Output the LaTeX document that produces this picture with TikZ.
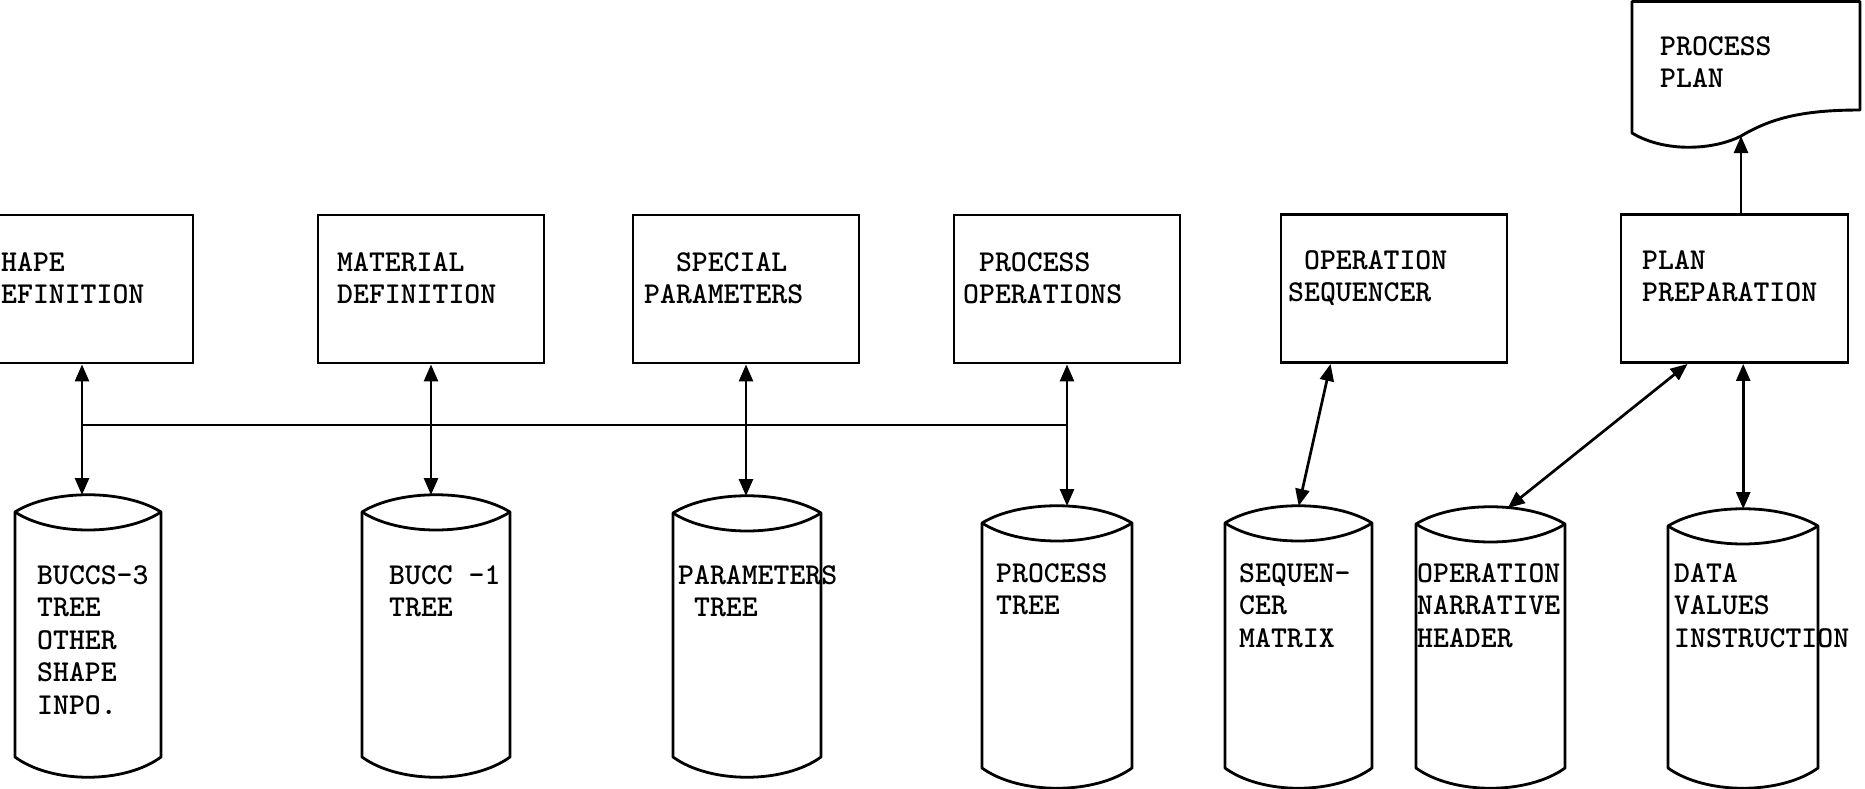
\documentclass[tikz,border=0pt]{standalone}
\usetikzlibrary{arrows.meta,calc}
\newcommand{\drawcyl}[5]{%
  \pgfmathsetmacro\cwid{#3-#2}%
  \pgfmathsetmacro\cqa{#2+0.25*\cwid}%
  \pgfmathsetmacro\cqb{#3-0.25*\cwid}%
  \draw[cylline] (#2,#4) .. controls (\cqa,#4-23) and (\cqb,#4-23) .. (#3,#4) -- (#3,#5) .. controls (\cqb,#5+27) and (\cqa,#5+27) .. (#2,#5) -- cycle;
  \draw[cylline] (#2,#4) .. controls (\cqa,#4+24) and (\cqb,#4+24) .. (#3,#4);
  \node[inner sep=0pt, minimum width=\cwid pt, minimum height=#5-#4+37, anchor=north west] (#1) at (#2,#4-17) {};%
}
\begin{document}
\begin{tikzpicture}[x=1pt,y=-1pt,
  box/.style={draw, line width=2.9pt, minimum width=226pt, minimum height=148pt, inner sep=0pt},
  cylline/.style={draw, line width=2.8pt, line join=round},
  txt/.style={anchor=north west, inner sep=0pt, align=left, font=\fontsize{30.3}{32.5}\selectfont\ttfamily\fontseries{b}\selectfont},
  ln/.style={line width=2.7pt},
  dbl/.style={line width=2.7pt, {Triangle[length=17pt,width=14pt]}-{Triangle[length=17pt,width=14pt]}},
  sgl/.style={line width=2.7pt, -{Triangle[length=17pt,width=14pt]}}]
\useasboundingbox (0,0) rectangle (1865,789);

% boxes
\node[box, minimum width=222pt] (shape) at (82,289) {};
\node[box] (mat) at (431,289) {};
\node[box] (spec) at (746,289) {};
\node[box] (pops) at (1067,289) {};
\node[box] (oseq) at (1394,288.5) {};
\node[box, minimum width=227pt] (pprep) at (1734.5,288.5) {};

\node[txt] (tshape) at (1,252) {HAPE\\EFINITION};
\node[txt] (tmat) at (337,252) {MATERIAL\\DEFINITION};
\node[txt] (tspec) at (644,252) {\hspace*{1.05em}SPECIAL\\PARAMETERS};
\node[txt] (tpops) at (963,252) {\hspace*{0.525em}PROCESS\\OPERATIONS};
\node[txt] (toseq) at (1288,250) {\hspace*{0.525em}OPERATION\\SEQUENCER};
\node[txt] (tpprep) at (1642,250) {PLAN\\PREPARATION};

% document
\draw[line width=2.9pt, line join=round] (1632,1.5) -- (1632,133) .. controls (1665,153) and (1714,150) .. (1741,136) .. controls (1770,119) and (1800,110) .. (1860,110) -- (1860,1.5) -- cycle;
\coordinate (docb) at (1741,136);
\node[txt] (doc) at (1660,36) {PROCESS\\PLAN};

% cylinders
\drawcyl{c1}{15}{161}{512}{757}
\drawcyl{c2}{362}{510}{512}{757}
\drawcyl{c3}{673}{821}{513}{757}
\drawcyl{c4}{982}{1132}{523}{768}
\drawcyl{c5}{1225}{1372}{523}{768}
\drawcyl{c6}{1416}{1565}{524}{768}
\drawcyl{c7}{1668}{1818}{526}{768}

\node[txt] (tc1) at (37,565) {BUCCS-3\\TREE\\OTHER\\SHAPE\\INPO.};
\node[txt] (tc2) at (389,565) {BUCC -1\\TREE};
\node[txt] (tc3) at (678,565) {PARAMETERS\\\hspace*{0.525em}TREE};
\node[txt] (tc4) at (996,563) {PROCESS\\TREE};
\node[txt] (tc5) at (1239,563) {SEQUEN-\\CER\\MATRIX};
\node[txt] (tc6) at (1417,563) {OPERATION\\NARRATIVE\\HEADER};
\node[txt] (tc7) at (1674,563) {DATA\\VALUES\\INSTRUCTION};

% connectors
\coordinate (bus) at (0,425);
\draw[ln] (shape.south |- bus) -- (pops.south |- bus);
\draw[dbl] (shape.south) -- (shape.south |- c1.north);
\draw[dbl] (mat.south) -- (mat.south |- c2.north);
\draw[dbl] (spec.south) -- (spec.south |- c3.north);
\draw[dbl] (pops.south) -- (pops.south |- c4.north);
\draw[dbl] ([xshift=51pt]oseq.south west) -- (c5.north);
\draw[dbl] ([xshift=68pt]pprep.south west) -- ([xshift=17pt,yshift=-1pt]c6.north);
\draw[dbl] (c7.north |- pprep.south) -- (c7.north);
\draw[sgl] (pprep.north -| docb) -- (docb);
\end{tikzpicture}
\end{document}
